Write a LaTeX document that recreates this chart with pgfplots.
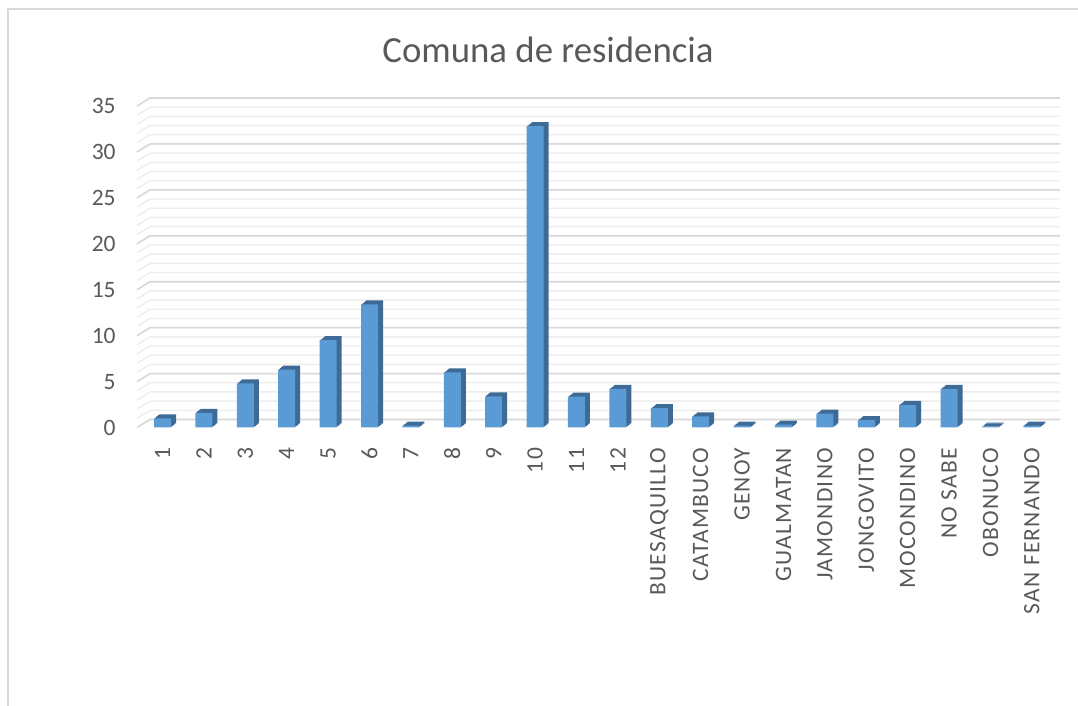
\documentclass[border=0pt]{standalone}
\usepackage{pgfplots}
\usepackage{pgfplotstable}
\pgfplotsset{compat=1.18}
\usepackage{fontspec}
\setmainfont{Carlito}
\newfontfamily\labfont[LetterSpace=5.5]{Carlito}
\definecolor{txt}{HTML}{595959}
\definecolor{barfront}{HTML}{5B9BD5}
\definecolor{barside}{HTML}{3E6A96}
\definecolor{gmaj}{HTML}{D9D9D9}
\definecolor{gmin}{HTML}{EDEDED}
\definecolor{frame}{HTML}{D9D9D9}

\pgfplotstableread{
x y
0 1.0
1 1.6
2 4.8
3 6.3
4 9.5
5 13.4
6 0.2
7 6.0
8 3.4
9 32.8
10 3.35
11 4.2
12 2.1
13 1.2
14 0.2
15 0.3
16 1.5
17 0.8
18 2.45
19 4.2
20 0.1
21 0.2
}\data

\begin{document}
\begin{tikzpicture}
\path[use as bounding box] (0,0) rectangle (539pt,353pt);
\draw[frame, line width=0.9pt] (4pt,0) -- (4pt,348.5pt) -- (539pt,348.5pt);
\node[anchor=base, text=txt, font=\fontsize{18.4}{22}\selectfont, inner sep=0pt] at (274pt,321.5pt) {Comuna de residencia};
\begin{axis}[
  at={(68.5pt,139.25pt)}, anchor=south west,
  width=455pt, height=160.75pt, scale only axis,
  xmin=-0.616, xmax=21.365, ymin=0, ymax=35,
  clip=false,
  ybar, bar width=8.5pt,
  axis line style={draw=none},
  major tick length=0pt, minor tick length=0pt,
  ytick={0,5,...,35},
  xtick={0,...,21},
  xticklabels={1,2,3,4,5,6,7,8,9,10,11,12,BUESAQUILLO,CATAMBUCO,GENOY,GUALMATAN,JAMONDINO,JONGOVITO,MOCONDINO,NO SABE,OBONUCO,SAN FERNANDO},
  /pgf/number format/assume math mode=true,
  tick label style={text=txt},
  yticklabel style={font=\fontsize{11.75}{14}\selectfont, anchor=east, inner sep=0pt, xshift=-10.5pt},
  xticklabel style={font=\labfont\fontsize{11.75}{14}\selectfont, yshift=-10pt, rotate=90, anchor=east, inner sep=0pt},
]
\pgfplotsinvokeforeach{0,...,35}{
  \draw[gmin, line width=0.7pt] (axis cs:-0.616,#1) -- ([shift={(6.5pt,4pt)}]axis cs:-0.616,#1) -- ([shift={(6.5pt,4pt)}]axis cs:21.365,#1);
}
\pgfplotsinvokeforeach{0,5,...,35}{
  \draw[gmaj, line width=0.8pt] (axis cs:-0.616,#1) -- ([shift={(6.5pt,4pt)}]axis cs:-0.616,#1) -- ([shift={(6.5pt,4pt)}]axis cs:21.365,#1);
}
\pgfplotsinvokeforeach{5,4,3,2,1}{
  \addplot[fill=barside, draw=none, bar shift=#1*0.5pt, yshift=#1*0.4pt] table[x=x,y=y] {\data};
}
\addplot[fill=barfront, draw=none, bar shift=0pt] table[x=x,y=y] {\data};
\end{axis}
\end{tikzpicture}
\end{document}
